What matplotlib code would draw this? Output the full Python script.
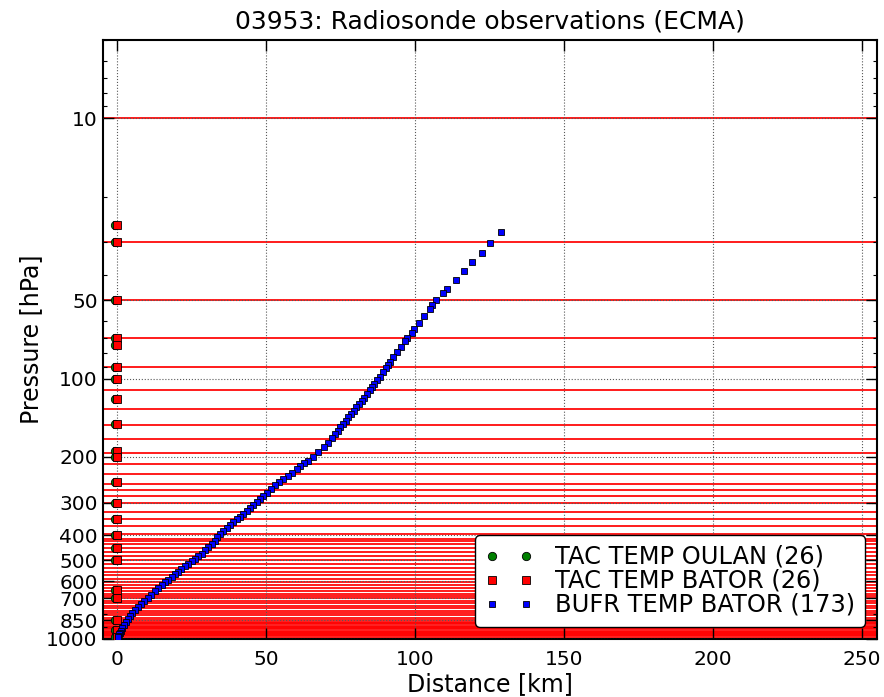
import matplotlib
matplotlib.use("Agg")
import matplotlib.pyplot as plt
from matplotlib.ticker import FixedLocator, LogLocator, NullFormatter, FixedFormatter

# Data (distance in km, pressure in hPa)

bufr_dist = [128.7, 125.2, 122.3, 119.1, 116.4, 113.8, 110.6, 109.2, 106.9, 105.5,
             104.8, 102.8, 101.3, 99.7, 98.8, 97.1, 96.4, 95.1, 93.7, 92.6,
             91.5, 90.9, 90.2, 89.2, 88.3, 87.0, 86.2, 85.5, 84.7, 83.8,
             82.9, 82.0, 81.1, 80.2, 79.3, 78.4, 77.5, 76.6, 75.7, 74.8,
             73.9, 73.0, 71.9, 70.7, 69.2, 67.5, 65.8, 64.1, 62.7, 61.3,
             60.2, 58.7, 57.2, 55.7, 54.4, 52.9, 51.5, 50.1, 49.0, 47.9,
             46.8, 45.6, 44.5, 43.4, 42.3, 41.2, 40.0, 38.9, 37.8, 36.7,
             35.5, 34.4, 33.3, 32.7, 31.6, 30.5, 29.4, 28.3, 27.1, 26.0,
             24.9, 23.8, 22.6, 21.5, 20.4, 19.3, 18.2, 17.0, 15.9, 14.8,
             13.7, 12.6, 11.4, 10.3, 8.8, 7.8, 6.8, 5.8, 4.8, 4.1,
             3.5, 2.8, 2.1, 1.6, 1.1, 0.8, 0.4, 0.3, 0.1]
bufr_pres = [27.3, 30.1, 32.8, 35.6, 38.7, 41.9, 45.1, 46.8, 50.1, 52.2,
             54.1, 57.4, 61.2, 64.7, 66.6, 70.1, 71.5, 75.4, 79.3, 82.7,
             86.4, 88.4, 91.3, 94.8, 98.6, 101.5, 104.5, 107.7, 110.9, 114.2,
             118.3, 121.9, 125.5, 129.2, 133.1, 137.1, 141.1, 145.4, 149.7, 154.1,
             158.8, 163.5, 169.3, 176.5, 183.8, 192.1, 199.7, 206.9, 211.7, 216.8,
             223.3, 230.1, 236.2, 243.8, 250.3, 256.4, 264.8, 274.3, 282.5, 290.1,
             297.9, 305.8, 314.0, 322.4, 331.1, 339.1, 346.9, 356.2, 364.8, 375.6,
             384.6, 396.0, 406.6, 420.1, 431.4, 444.1, 457.6, 471.2, 482.5, 492.4,
             502.5, 514.6, 527.0, 539.3, 552.3, 565.6, 578.7, 592.6, 606.9, 623.2,
             640.0, 657.2, 676.7, 694.9, 713.4, 732.5, 752.3, 772.5, 793.3, 814.5,
             836.4, 858.9, 881.9, 905.6, 929.8, 946.4, 963.2, 975.7, 988.6]

tac_pres = [25.8, 30, 50, 70, 74, 90, 100, 120, 150, 190, 200, 250, 300,
            347, 400, 450, 500, 650, 700, 850, 925, 985]
tac_dist = [0.0, 0.0, 0.0, 0.0, 0.0, 0.0, 0.0, 0.0, 0.0, 0.0, 0.0, 0.0, 0.0,
            0.0, 0.0, 0.0, 0.0, 0.0, 0.0, 0.0, 0.0, 0.0]
oulan_pres = tac_pres
oulan_dist = [-0.7, -0.7, -0.7, -0.7, -0.7, -0.7, -0.7, -0.7, -0.7, -0.7, -0.7,
              -0.7, -0.7, -0.7, -0.7, -0.7, -0.7, -0.7, -0.7, -0.7, -0.7, -0.7]

# horizontal red level lines
level_lines = [10, 30, 50, 70, 90.3, 110.4, 130.9, 151, 171.3, 192.5, 213.9,
               233.7, 253.4, 268.7, 282.5, 301.2, 324.4, 346.9, 370.3, 396,
               412.8, 420, 434, 447, 464, 479.5, 500, 514.6, 533, 552, 570.5,
               589, 605, 623, 640, 657, 671, 687, 699, 713, 729, 745.5, 762,
               779, 796, 814, 832, 851, 860, 870, 880, 890, 900, 910, 920,
               930, 940, 950, 960, 970, 980, 990, 1000]

y_ticks = [10, 50, 100, 200, 300, 400, 500, 600, 700, 850, 1000]
x_ticks = [0, 50, 100, 150, 200, 250]

labels = ["TAC TEMP OULAN (26)", "TAC TEMP BATOR (26)", "BUFR TEMP BATOR (173)"]


fig = plt.figure(figsize=(8.84, 6.97), dpi=100)
ax = fig.add_axes([0.116, 0.0836, 0.876, 0.859])

for p in level_lines:
    ax.axhline(p, color="red", lw=1.25, zorder=1)

ax.plot(oulan_dist, oulan_pres, "o", color="green", mec="k", mew=0.6, ms=6,
        label=labels[0], zorder=3)
ax.plot(tac_dist, tac_pres, "s", color="red", mec="k", mew=0.6, ms=6,
        label=labels[1], zorder=3)
ax.plot(bufr_dist, bufr_pres, "s", color="blue", mec="k", mew=0.6, ms=4.2,
        label=labels[2], zorder=3)

ax.set_yscale("log")
ax.set_ylim(1000, 5)
ax.set_xlim(-5, 255)
ax.yaxis.set_major_locator(FixedLocator(y_ticks))
ax.yaxis.set_major_formatter(FixedFormatter([str(t) for t in y_ticks]))
ax.yaxis.set_minor_locator(LogLocator(subs=(2, 3, 4, 5, 6, 7, 8, 9)))
ax.yaxis.set_minor_formatter(NullFormatter())
ax.set_xticks(x_ticks)

ax.tick_params(which="both", direction="in", top=True, right=True,
               labelsize=14.5)
ax.tick_params(which="major", length=8, width=1)
ax.tick_params(which="minor", length=3, width=0.8)
ax.tick_params(axis="x", pad=8)
for s in ax.spines.values():
    s.set_linewidth(1.5)

ax.set_axisbelow(False)
ax.grid(True, which="major", color="0.35", linestyle=":", lw=0.8, zorder=4)

ax.set_title("03953: Radiosonde observations (ECMA)", fontsize=18, pad=8)
ax.set_xlabel("Distance [km]", fontsize=17, labelpad=2)
ax.set_ylabel("Pressure [hPa]", fontsize=17, labelpad=2)

leg = ax.legend(loc="lower right", numpoints=2, fontsize=17.4, fancybox=True,
                labelspacing=0.0, handlelength=2.0, handletextpad=0.9,
                borderpad=0.4, framealpha=1.0, edgecolor="k")
leg.get_frame().set_linewidth(1.0)
leg.set_zorder(10)

fig.savefig("out.png", dpi=100, facecolor="white")
